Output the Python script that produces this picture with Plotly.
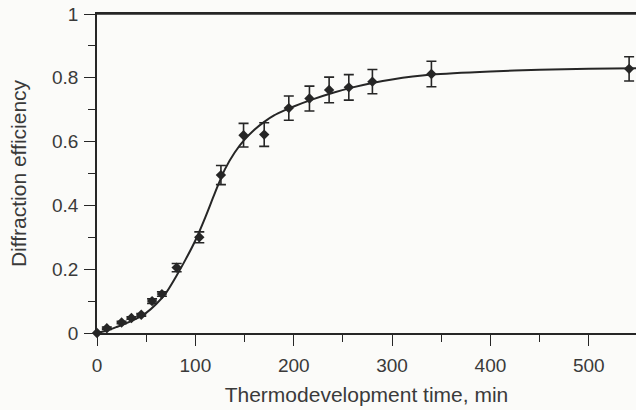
import plotly.graph_objects as go

# Measured data (thermodevelopment time in min, diffraction efficiency)
time_min = [0, 10, 25, 35, 45, 56, 66, 81, 104, 126, 149, 170, 195, 216, 236, 256, 280, 340, 541]
efficiency = [0, 0.015, 0.033, 0.047, 0.057, 0.10, 0.122, 0.205, 0.30, 0.495, 0.62, 0.622,
              0.705, 0.735, 0.762, 0.770, 0.788, 0.812, 0.828]
eff_error = [0.004, 0.004, 0.004, 0.004, 0.004, 0.007, 0.007, 0.013, 0.017, 0.03, 0.037, 0.037,
             0.038, 0.039, 0.04, 0.04, 0.038, 0.04, 0.038]

# Fitted curve
fit_time = [0, 10, 20, 30, 40, 50, 60, 70, 80, 90, 100, 110, 120, 130, 140, 150, 160, 170, 180,
            190, 200, 220, 240, 260, 280, 300, 340, 400, 450, 500, 548]
fit_eff = [0, 0.008, 0.019, 0.031, 0.045, 0.063, 0.09, 0.125, 0.175, 0.23, 0.29, 0.362, 0.44,
           0.513, 0.566, 0.606, 0.637, 0.662, 0.682, 0.697, 0.71, 0.733, 0.753, 0.77, 0.784,
           0.795, 0.81, 0.82, 0.825, 0.828, 0.83]

x_ticks = [0, 100, 200, 300, 400, 500]
y_ticks = [0, 0.2, 0.4, 0.6, 0.8, 1]
y_tick_labels = ["0", "0.2", "0.4", "0.6", "0.8", "1"]

ink = "#262626"
text_col = "#3a3a3a"
font = "Liberation Sans, Arial, Helvetica, sans-serif"

fig = go.Figure()
fig.add_trace(go.Scatter(
    x=fit_time, y=fit_eff, mode="lines",
    line=dict(color=ink, width=2, shape="spline", smoothing=0.8),
    hoverinfo="skip", showlegend=False, cliponaxis=False,
))
fig.add_trace(go.Scatter(
    x=time_min, y=efficiency, mode="markers",
    marker=dict(symbol="diamond", size=8, color=ink),
    error_y=dict(type="data", array=eff_error, visible=True, color=ink, thickness=1.6, width=5),
    showlegend=False, cliponaxis=False,
))

# top edge of the axis frame
fig.add_shape(type="line", xref="paper", yref="paper", x0=0, x1=1, y0=1, y1=1,
              line=dict(color=ink, width=1.6), layer="above")

fig.update_layout(
    width=636, height=410,
    margin=dict(l=97, r=0, t=14, b=77, autoexpand=False),
    paper_bgcolor="#fbfbf9", plot_bgcolor="#fbfbf9",
    font=dict(family=font, size=19, color=text_col),
    showlegend=False,
)
fig.update_xaxes(
    range=[0, 548], showgrid=False, zeroline=False, automargin=False,
    showline=True, linecolor=ink, linewidth=1.6, mirror=True,
    tickmode="array", tickvals=x_ticks, ticks="outside", ticklen=11, tickwidth=1.4, tickcolor=ink,
    ticklabelstandoff=3,
    minor=dict(tickmode="array", tickvals=[50, 150, 250, 350, 450], ticks="outside", ticklen=7,
               tickwidth=1.4, tickcolor=ink, showgrid=False),
    title=dict(text="Thermodevelopment time, min", font=dict(size=21), standoff=13),
)
fig.update_yaxes(
    range=[0, 1], showgrid=False, zeroline=False, automargin=False,
    showline=True, linecolor=ink, linewidth=1.6,
    tickmode="array", tickvals=y_ticks, ticktext=y_tick_labels,
    ticks="outside", ticklen=11, tickwidth=1.4, tickcolor=ink,
    ticklabelstandoff=2,
    minor=dict(tickmode="array", tickvals=[0.1, 0.3, 0.5, 0.7, 0.9], ticks="outside", ticklen=7,
               tickwidth=1.4, tickcolor=ink, showgrid=False),
    title=dict(text="Diffraction efficiency", font=dict(size=21), standoff=20),
)

# remove the default page margin so the figure fills the 636x410 window exactly
fig.write_html("out.html", post_script="document.body.style.margin='0';",
               config={"displayModeBar": False})
